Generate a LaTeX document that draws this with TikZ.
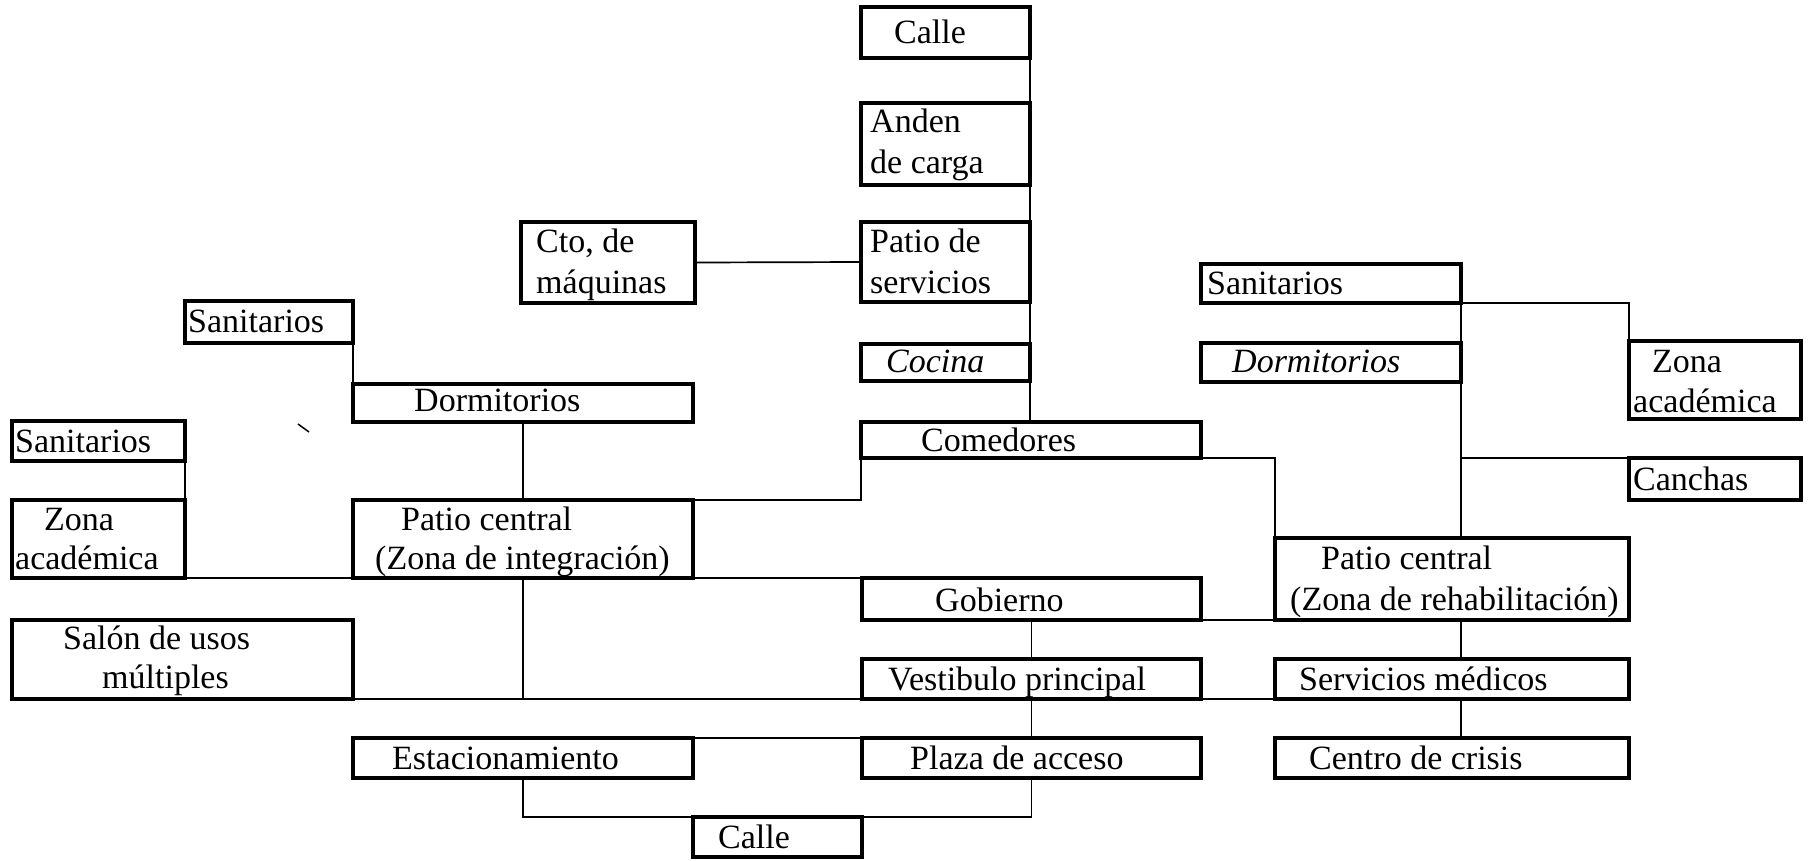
\documentclass[tikz,border=0pt]{standalone}
\usepackage{fontspec}
\setmainfont{Liberation Serif}
\tikzset{
  box/.style={draw=black, line width=3.5pt, rectangle, inner sep=0pt, outer sep=0pt},
  txt/.style={anchor=west, inner sep=0pt, text height=22pt, text depth=0pt},
  conn/.style={draw=black, line width=1.7pt},
}
\newcommand\bx[5]{\node[box, minimum width={(#4-#2)*1pt}, minimum height={(#5-#3)*1pt}] (#1) at ({(#2+#4)/2},{(#3+#5)/2}) {};}
\newcommand\tx[4]{\node[txt] (#1) at (#2,#3) {#4};}
\begin{document}
\begin{tikzpicture}[x=1pt, y=-1pt, font=\fontsize{34}{40}\selectfont]
\useasboundingbox (0,0) rectangle (1809,860);
% boxes
\bx{calleT}{861}{7}{1030}{58}
\bx{anden}{861}{103}{1030}{185}
\bx{pserv}{861}{222}{1030}{302}
\bx{cto}{521}{222}{695}{303}
\bx{cocina}{861}{344}{1030}{381}
\bx{comed}{861}{422}{1201}{458}
\bx{sanR}{1201}{264}{1461}{303}
\bx{dormR}{1201}{343}{1461}{382}
\bx{zonaR}{1629}{341}{1801}{419}
\bx{canchas}{1629}{458}{1801}{500}
\bx{prehab}{1275}{538}{1629}{620}
\bx{gob}{862}{578}{1201}{620}
\bx{vest}{862}{659}{1201}{699}
\bx{servm}{1275}{659}{1629}{699}
\bx{plaza}{862}{738}{1201}{778}
\bx{centro}{1275}{738}{1629}{778}
\bx{calleB}{693}{817}{862}{857}
\bx{estac}{353}{738}{693}{778}
\bx{salon}{12}{620}{353}{699}
\bx{pint}{353}{500}{693}{578}
\bx{dormL}{353}{384}{693}{422}
\bx{sanUL}{185}{301}{353}{343}
\bx{sanL}{12}{421}{185}{461}
\bx{zonaL}{12}{500}{185}{578}
% texts
\tx{t1}{894}{32}{Calle}
\tx{t2a}{870}{121}{Anden}
\tx{t2b}{870}{162}{de carga}
\tx{t3a}{870}{241}{Patio de}
\tx{t3b}{870}{282}{servicios}
\tx{t4a}{536}{241}{Cto, de}
\tx{t4b}{536}{282}{máquinas}
\tx{t5}{886}{361}{\itshape Cocina}
\tx{t6}{921}{440}{Comedores}
\tx{t7}{1207}{283}{Sanitarios}
\tx{t8}{1232}{361}{\itshape Dormitorios}
\tx{t9a}{1652}{361}{Zona}
\tx{t9b}{1633}{401}{académica}
\tx{t10}{1633}{479}{Canchas}
\tx{t11a}{1321}{558}{Patio central}
\tx{t11b}{1290}{599}{(Zona de rehabilitación)}
\tx{t12}{935}{600}{Gobierno}
\tx{t13}{888}{679}{Vestibulo principal}
\tx{t14}{1299}{679}{Servicios médicos}
\tx{t15}{910}{758}{Plaza de acceso}
\tx{t16}{1309}{758}{Centro de crisis}
\tx{t17}{718}{837}{Calle}
\tx{t18}{392}{758}{Estacionamiento}
\tx{t19a}{63}{638}{Salón de usos}
\tx{t19b}{102}{677}{múltiples}
\tx{t20a}{401}{519}{Patio central}
\tx{t20b}{375}{558}{(Zona de integración)}
\tx{t21}{414}{400}{Dormitorios}
\tx{t22}{188}{321}{Sanitarios}
\tx{t23}{15}{441}{Sanitarios}
\tx{t24a}{44}{519}{Zona}
\tx{t24b}{15}{558}{académica}
% connectors
\coordinate (rx) at (1461,0);
\draw[conn] (calleT.south east) -- (anden.north east);
\draw[conn] (anden.south east) -- (pserv.north east);
\draw[conn] (pserv.south east) -- (cocina.north east);
\draw[conn] (cocina.south east) -- (cocina.south east |- comed.north);
\draw[conn] (cto.east) -- (pserv.west);
\draw[conn] (sanUL.south east) -- (dormL.north west);
\draw[conn] (sanL.south east) -- (zonaL.north east);
\draw[conn] (dormL.south) -- (pint.north);
\draw[conn] (zonaL.south east) -- (gob.north west);
\draw[conn] (pint.north east) -- (pint.north east -| comed.south west) -- (comed.south west);
\draw[conn] (comed.south east) -- (comed.south east -| prehab.north west) -- (prehab.north west);
\draw[conn] (gob.south east) -- (prehab.south west);
\draw[conn] (gob.south) -- (vest.north);
\draw[conn] (vest.south) -- (plaza.north);
\draw[conn] (plaza.south) -- (plaza.south |- calleB.north) -- (calleB.north -| estac.south) -- (estac.south);
\draw[conn] (estac.north east) -- (plaza.north west);
\draw[conn] (salon.south east) -- (vest.south west);
\draw[conn] (pint.south) -- (pint.south |- vest.south);
\draw[conn] (vest.south east) -- (servm.south west);
\draw[conn] (rx |- prehab.south) -- (rx |- servm.north);
\draw[conn] (rx |- servm.south) -- (rx |- centro.north);
\draw[conn] (sanR.south east) -- (dormR.north east);
\draw[conn] (dormR.south east) -- (dormR.south east |- prehab.north);
\draw[conn] (sanR.south east) -- (sanR.south east -| zonaR.north west) -- (zonaR.north west);
\draw[conn] (rx |- canchas.north west) -- (canchas.north west);
% stray tick mark
\coordinate (tk1) at (298,424);
\coordinate (tk2) at (309,432);
\draw[line width=1.5pt] (tk1) -- (tk2);
\end{tikzpicture}
\end{document}
